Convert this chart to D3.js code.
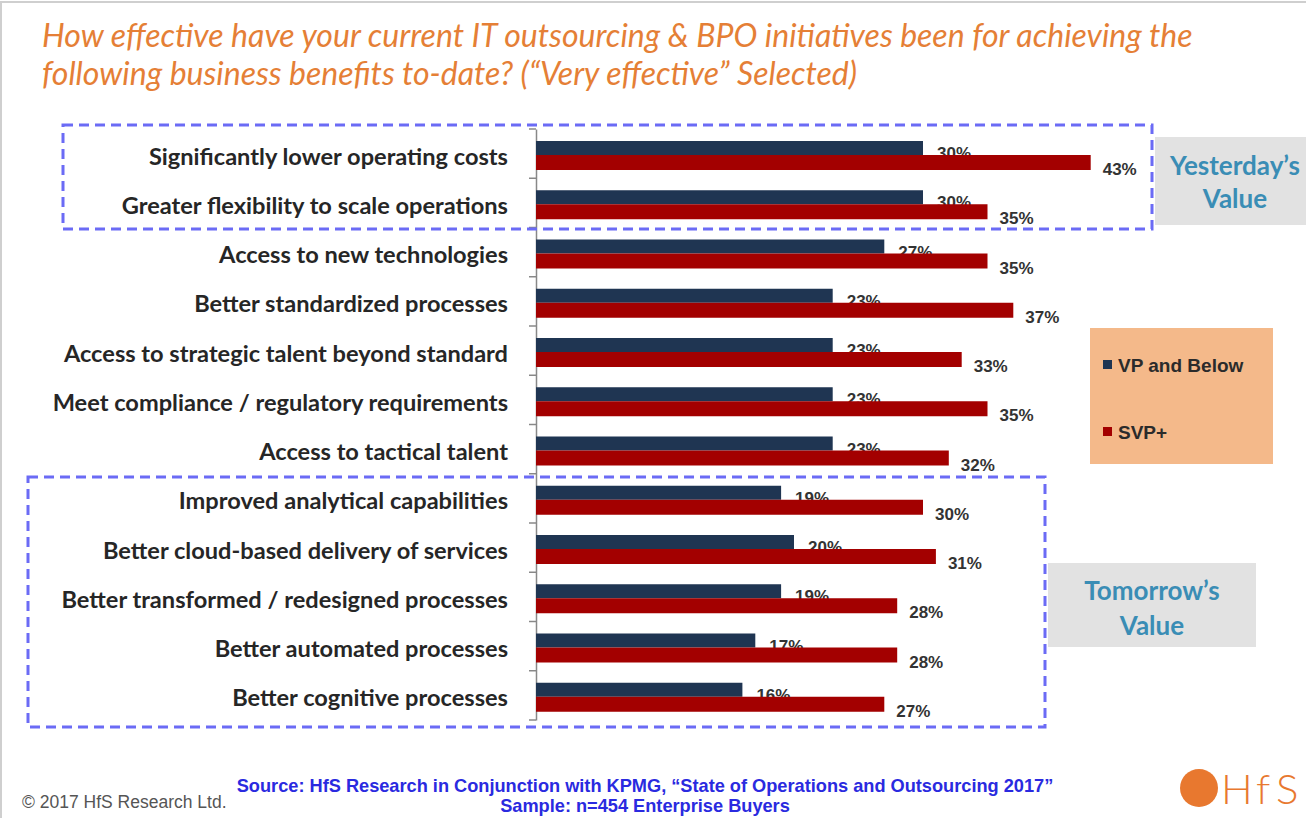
<!DOCTYPE html>
<html>
<head>
<meta charset="utf-8">
<script src="https://cdn.jsdelivr.net/npm/d3@7"></script>
<style>
  body { margin: 0; background: #fff; }
  svg { display: block; }
</style>
</head>
<body>
<div id="plot"></div>
<script>
// values ("Very effective" %)
let categories = [
    "Significantly lower operating costs",
    "Greater flexibility to scale operations",
    "Access to new technologies",
    "Better standardized processes",
    "Access to strategic talent beyond standard",
    "Meet compliance / regulatory requirements",
    "Access to tactical talent",
    "Improved analytical capabilities",
    "Better cloud-based delivery of services",
    "Better transformed / redesigned processes",
    "Better automated processes",
    "Better cognitive processes"
];
let vpValues  = [30, 30, 27, 23, 23, 23, 23, 19, 20, 19, 17, 16];
let svpValues = [43, 35, 35, 37, 33, 35, 32, 30, 31, 28, 28, 27];
let seriesNames = ["VP and Below", "SVP+"];
let colors = ["#1f3552", "#a30000"];

let svgWidth = 1306;
let svgHeight = 818;

let rows = categories.map(function(c, i){
    return { cat: c, vp: vpValues[i], svp: svpValues[i] };
});

let svg = d3.select('#plot')
    .append('svg')
        .attr('width', svgWidth)
        .attr('height', svgHeight);

// slide frame
svg.append('rect')
    .attr('x', 1).attr('y', 2)
    .attr('width', svgWidth + 10).attr('height', svgHeight + 10)
    .attr('fill', 'none')
    .attr('stroke', '#cfcfcf')
    .attr('stroke-width', 2);

// title
let title = svg.append('text')
    .attr('font-family', 'Lato')
    .attr('font-style', 'italic')
    .attr('font-size', 27)
    .attr('fill', '#e57f36');
let t1 = title.append('tspan').attr('x', 42).attr('y', 47)
    .text("How effective have your current IT outsourcing & BPO initiatives been for achieving the");
title.append('tspan').attr('x', 42).attr('y', 85)
    .text("following business benefits to-date? (\u201CVery effective\u201D Selected)");
// fit the first line to the width it has in the original
let tw = t1.node().getComputedTextLength();
title.attr('font-size', 27 * 1151 / tw);

// scales
let x = d3.scaleLinear()
    .domain([0, 50])
    .range([536, 536 + 12.9 * 50]);

let y = d3.scaleBand()
    .domain(categories)
    .range([129, 720]);

// side boxes first (behind)
svg.append('rect')
    .attr('x', 1155).attr('y', 137).attr('width', 160).attr('height', 88)
    .attr('fill', '#e2e2e2');
svg.append('rect')
    .attr('x', 1048).attr('y', 563).attr('width', 208).attr('height', 84)
    .attr('fill', '#e2e2e2');

let boxText = [
    { x: 1235, y: 175, t: "Yesterday\u2019s" },
    { x: 1235, y: 208, t: "Value" },
    { x: 1152, y: 600, t: "Tomorrow\u2019s" },
    { x: 1152, y: 635, t: "Value" }
];
svg.selectAll('.boxtext').data(boxText).enter()
    .append('text')
    .attr('x', d => d.x).attr('y', d => d.y)
    .attr('text-anchor', 'middle')
    .attr('font-family', 'Lato')
    .attr('font-weight', 'bold')
    .attr('font-size', 26)
    .attr('fill', '#3a8db5')
    .text(d => d.t);

// legend
svg.append('rect')
    .attr('x', 1090).attr('y', 328).attr('width', 183).attr('height', 136)
    .attr('fill', '#f4b98a');
let legend = svg.selectAll('.leg').data(seriesNames).enter()
    .append('g')
    .attr('transform', (d, i) => `translate(1103,${365 + i * 67})`);
legend.append('rect')
    .attr('x', 0).attr('y', -5).attr('width', 9).attr('height', 9)
    .attr('fill', (d, i) => colors[i]);
legend.append('text')
    .attr('x', 15).attr('y', 7)
    .attr('font-family', 'Liberation Sans, Arial')
    .attr('font-weight', 'bold')
    .attr('font-size', 19)
    .attr('fill', '#2b2b2b')
    .text(d => d);

// axis
let yAxis = d3.axisLeft(y).tickSize(0).tickFormat('');
let axisG = svg.append('g')
    .attr('transform', 'translate(536,0)')
    .call(yAxis);
axisG.select('.domain').attr('stroke', '#888').attr('stroke-width', 1.5);
let bounds = d3.range(categories.length + 1).map(i => 129 + i * y.step());
axisG.selectAll('.bound').data(bounds).enter()
    .append('line')
    .attr('x1', -7).attr('x2', 0)
    .attr('y1', d => d).attr('y2', d => d)
    .attr('stroke', '#888').attr('stroke-width', 1.5);

// category labels
svg.selectAll('.cat').data(rows).enter()
    .append('text')
    .attr('x', 508)
    .attr('y', d => y(d.cat) + y.bandwidth() / 2 + 11)
    .attr('text-anchor', 'end')
    .attr('font-family', 'Lato')
    .attr('font-weight', 'bold')
    .attr('font-size', 23.6)
    .attr('fill', '#262626')
    .text(d => d.cat);

let barH = 14;
let top0 = 12;

// dark bars
svg.selectAll('.vp').data(rows).enter()
    .append('rect')
    .attr('x', x(0))
    .attr('y', d => y(d.cat) + top0)
    .attr('width', d => x(d.vp) - x(0))
    .attr('height', barH)
    .attr('fill', colors[0]);

// dark labels (partly covered by red bars as in original)
svg.selectAll('.vplab').data(rows).enter()
    .append('text')
    .attr('x', d => x(d.vp) + 14)
    .attr('y', d => y(d.cat) + top0 + barH + 4)
    .attr('font-family', 'Liberation Sans, Arial')
    .attr('font-weight', 'bold')
    .attr('font-size', 17)
    .attr('fill', '#333')
    .text(d => d.vp + '%');

// red bars
svg.selectAll('.svp').data(rows).enter()
    .append('rect')
    .attr('x', x(0))
    .attr('y', d => y(d.cat) + top0 + barH)
    .attr('width', d => x(d.svp) - x(0))
    .attr('height', barH + 1)
    .attr('fill', colors[1]);

svg.selectAll('.svplab').data(rows).enter()
    .append('text')
    .attr('x', d => x(d.svp) + 12)
    .attr('y', d => y(d.cat) + top0 + barH + 20)
    .attr('font-family', 'Liberation Sans, Arial')
    .attr('font-weight', 'bold')
    .attr('font-size', 17)
    .attr('fill', '#333')
    .text(d => d.svp + '%');

// dashed group boxes
let groups = [
    { x: 63, y: 125, w: 1089, h: 104 },
    { x: 28, y: 477, w: 1017, h: 250 }
];
svg.selectAll('.grp').data(groups).enter()
    .append('rect')
    .attr('x', d => d.x).attr('y', d => d.y)
    .attr('width', d => d.w).attr('height', d => d.h)
    .attr('fill', 'none')
    .attr('stroke', '#6b6bf5')
    .attr('stroke-width', 3)
    .attr('stroke-dasharray', '10,6');

// footer
svg.append('text')
    .attr('x', 22).attr('y', 808)
    .attr('font-family', 'Liberation Sans')
    .attr('font-size', 17.5)
    .attr('fill', '#555')
    .text("\u00A9 2017 HfS Research Ltd.");

let source = svg.append('text')
    .attr('text-anchor', 'middle')
    .attr('font-family', 'Liberation Sans')
    .attr('font-weight', 'bold')
    .attr('font-size', 18.2)
    .attr('fill', '#2a2ae0');
source.append('tspan').attr('x', 645).attr('y', 792)
    .text("Source: HfS Research in Conjunction with KPMG, \u201CState of Operations and Outsourcing 2017\u201D");
source.append('tspan').attr('x', 645).attr('y', 812)
    .text("Sample: n=454 Enterprise Buyers");

// logo
svg.append('circle')
    .attr('cx', 1199).attr('cy', 788).attr('r', 19)
    .attr('fill', '#e8782f');
let logo = svg.append('text')
    .attr('y', 804)
    .attr('font-family', 'Lato')
    .attr('font-weight', 300)
    .attr('font-size', 42)
    .attr('fill', '#e8782f');
logo.append('tspan').attr('x', 1221).text("H");
logo.append('tspan').attr('x', 1256).text("f");
logo.append('tspan').attr('x', 1276).text("S");
</script>
</body>
</html>
